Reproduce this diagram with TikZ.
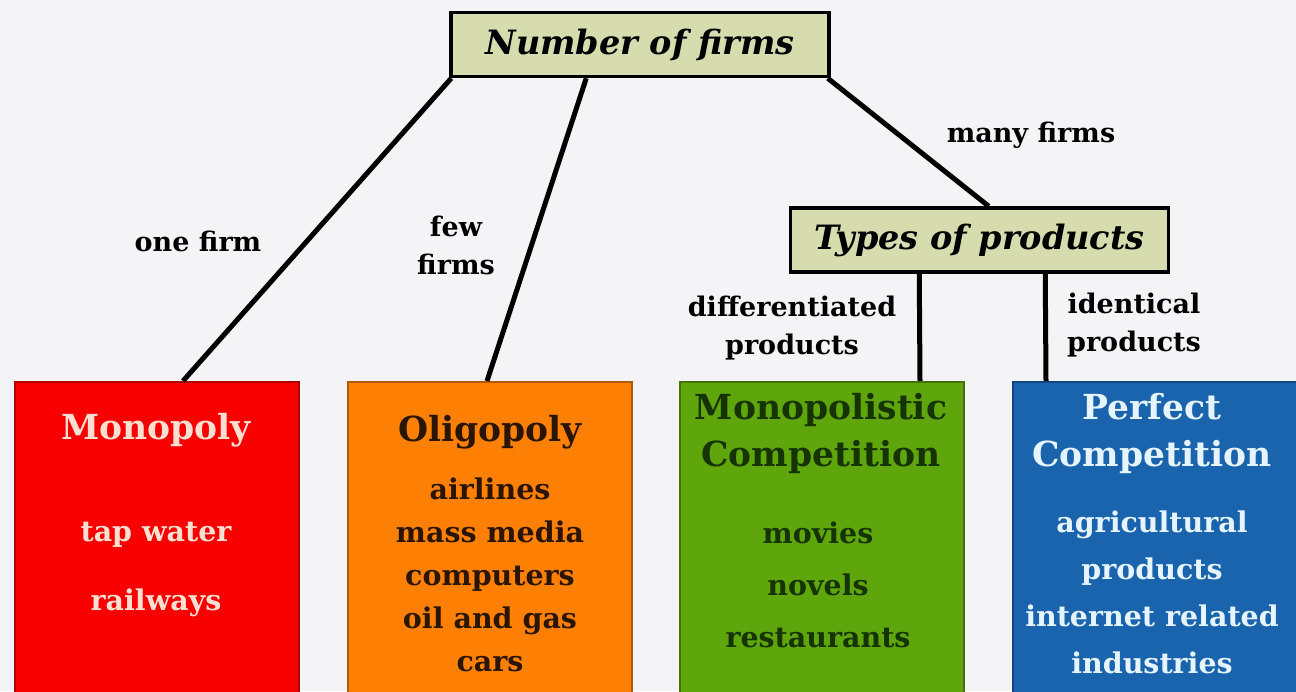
\documentclass[tikz,border=0pt]{standalone}
\usepackage{fontspec}
\setmainfont{DejaVu Serif}
\usetikzlibrary{calc}
\definecolor{bg}{HTML}{F4F4F6}
\definecolor{hdrfill}{HTML}{D6DCAE}
\definecolor{cred}{HTML}{F80000}
\definecolor{corange}{HTML}{FD8004}
\definecolor{cgreen}{HTML}{5FA50C}
\definecolor{cblue}{HTML}{1A64AE}
\definecolor{tred}{HTML}{FBE0D2}
\definecolor{torange}{HTML}{2A1600}
\definecolor{tgreen}{HTML}{163400}
\definecolor{tblue}{HTML}{E6F4FF}
\begin{document}
\begin{tikzpicture}[x=1pt,y=-1pt,
  hdr/.style={draw=black, line width=3.5pt, fill=hdrfill, minimum width=378pt, minimum height=64pt, inner sep=0pt, font=\fontsize{33.5}{36}\selectfont\bfseries\itshape},
  catbox/.style={draw=#1!70!black, line width=2pt, fill=#1, minimum width=284pt, minimum height=330pt, anchor=north west, inner sep=0pt},
  lbl/.style={font=\fontsize{27}{38}\selectfont\bfseries, align=center, text=black, inner sep=0pt},
  ttl/.style={font=\fontsize{34.5}{47}\selectfont\bfseries, align=center, inner sep=0pt},
  itm/.style={font=\fontsize{28.5}{44}\selectfont\bfseries, align=center, inner sep=0pt},
  conn/.style={line width=5pt, black},
]
\useasboundingbox (0,0) rectangle (1296,691);
\fill[bg] (0,0) rectangle (1296,691);

% category boxes
\node[catbox=cred] (mono) at (14,381) {};
\node[catbox=corange] (oligo) at (347,381) {};
\node[catbox=cgreen] (mcomp) at (679,381) {};
\node[catbox=cblue] (pcomp) at (1012,381) {};

% headers
\node[hdr] (nf) at (640,44.5) {Number of firms};
\node[hdr] (tp) at (979.5,240) {Types of products};

% connector end points
\coordinate (c1) at ($(mono.north west)+(169,0)$);
\coordinate (c2) at ($(oligo.north west)+(140,0)$);
\coordinate (c3) at ($(mcomp.north west)+(241,0)$);
\coordinate (c4) at ($(pcomp.north west)+(34,0)$);
\coordinate (s1) at ($(nf.south west)+(2,0)$);
\coordinate (s2) at ($(nf.south west)+(137,0)$);
\coordinate (s3) at ($(nf.south east)+(-3,0)$);
\coordinate (t3) at ($(tp.north west)+(200,0)$);
\coordinate (u1) at ($(tp.south west)+(130.5,0)$);
\coordinate (u2) at ($(tp.south west)+(256.5,0)$);

\draw[conn] (s1) -- (c1);
\draw[conn] (s2) -- (c2);
\draw[conn] (s3) -- (t3);
\draw[conn] (u1) -- (c3);
\draw[conn] (u2) -- (c4);

% connector labels
\node[lbl] (l1) at (198,241) {one firm};
\node[lbl] (l2) at (456,245) {few\\firms};
\node[lbl] (l3) at (1031,135) {many firms};
\node[lbl] (l4) at (792,328) {differentiated\\products};
\node[lbl] (l5) at (1134,325) {identical\\products};

% box contents
\node[ttl, text=tred] (m1) at (156,430) {Monopoly};
\node[itm, text=tred] (m2) at (156,535) {tap water};
\node[itm, text=tred] (m3) at (156,603) {railways};

\node[ttl, text=torange] (o1) at (490,432) {Oligopoly};
\node[itm, text=torange, font=\fontsize{28.5}{43}\selectfont\bfseries] (o2) at (490,575) {airlines\\mass media\\computers\\oil and gas\\cars};

\node[ttl, text=tgreen] (g1) at (821,433) {Monopolistic\\Competition};
\node[itm, text=tgreen, font=\fontsize{28.5}{52}\selectfont\bfseries] (g2) at (818,585) {movies\\novels\\restaurants};

\node[ttl, text=tblue] (b1) at (1152,433) {Perfect\\Competition};
\node[itm, text=tblue, font=\fontsize{28.5}{47}\selectfont\bfseries] (b2) at (1152,592) {agricultural\\products\\internet related\\industries};
\end{tikzpicture}
\end{document}
